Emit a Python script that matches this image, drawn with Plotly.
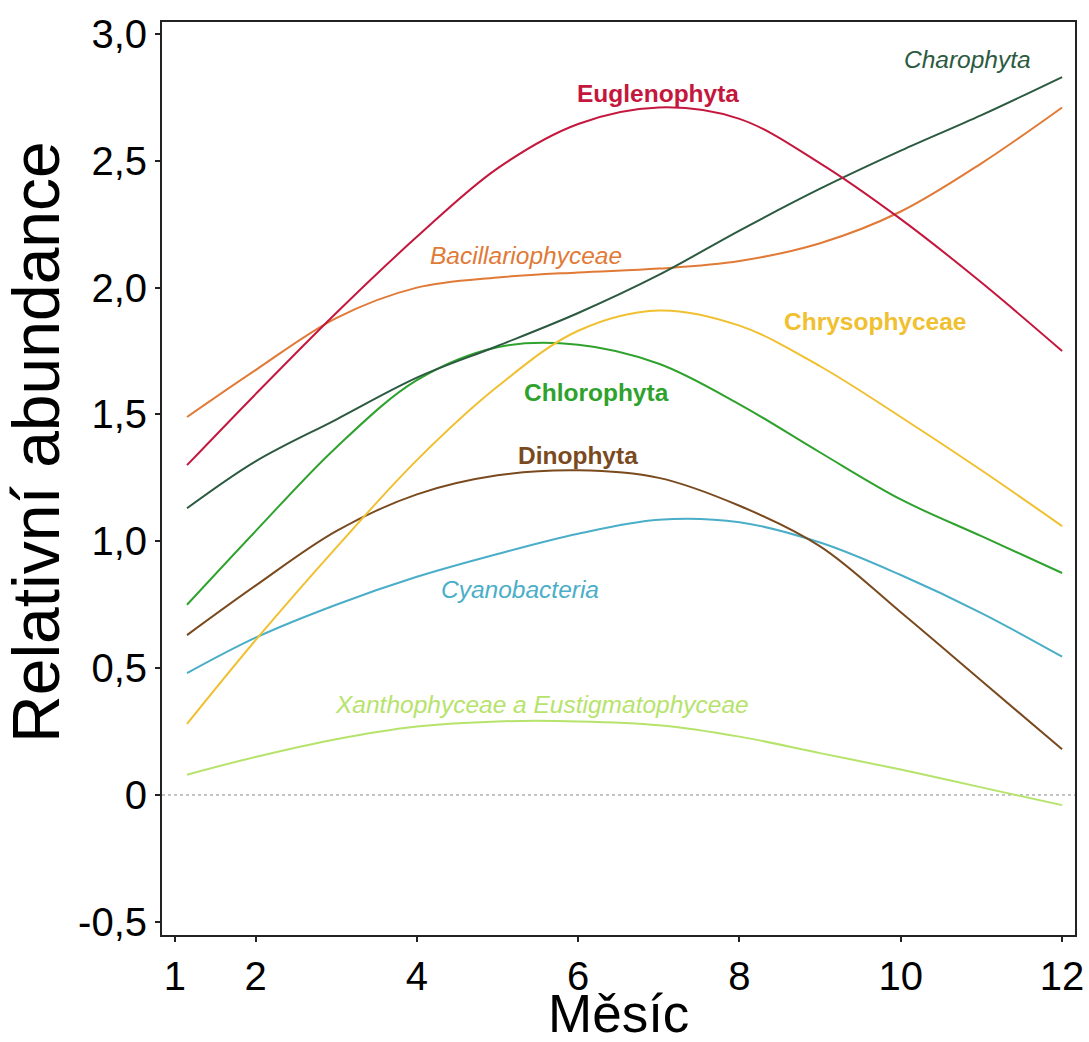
import plotly.graph_objects as go

# ---- data ----
months = [1.15, 2, 3, 4, 5, 6, 7, 8, 9, 10, 11, 12]

euglenophyta = [1.30, 1.58, 1.90, 2.20, 2.47, 2.645, 2.71, 2.665, 2.49, 2.27, 2.02, 1.75]
charophyta = [1.13, 1.315, 1.48, 1.645, 1.77, 1.90, 2.05, 2.225, 2.39, 2.54, 2.68, 2.83]
bacillariophyceae = [1.49, 1.675, 1.88, 2.00, 2.04, 2.06, 2.075, 2.105, 2.175, 2.30, 2.49, 2.71]
chrysophyceae = [0.28, 0.61, 0.975, 1.32, 1.61, 1.83, 1.91, 1.85, 1.69, 1.49, 1.28, 1.06]
chlorophyta = [0.75, 1.04, 1.37, 1.635, 1.765, 1.775, 1.70, 1.54, 1.35, 1.165, 1.02, 0.875]
dinophyta = [0.63, 0.825, 1.04, 1.185, 1.26, 1.28, 1.25, 1.14, 0.98, 0.72, 0.45, 0.18]
cyanobacteria = [0.48, 0.62, 0.75, 0.86, 0.95, 1.03, 1.085, 1.075, 0.995, 0.867, 0.717, 0.545]
xantho = [0.08, 0.15, 0.22, 0.27, 0.29, 0.29, 0.275, 0.23, 0.165, 0.10, 0.03, -0.04]

x_ticks = [1, 2, 4, 6, 8, 10, 12]
y_ticks = [-0.5, 0, 0.5, 1.0, 1.5, 2.0, 2.5, 3.0]
y_tick_labels = ["-0,5", "0", "0,5", "1,0", "1,5", "2,0", "2,5", "3,0"]

x_title = "Měsíc"
y_title = "Relativní abundance"

# ---- styles ----
FONT = "Arial, Liberation Sans, sans-serif"
LABEL_SIZE = 24.5
series = [
    ("Xanthophyceae a Eustigmatophyceae", xantho, "#b6e36b", dict(x=5.55, y=0.355, bold=False, italic=True)),
    ("Cyanobacteria", cyanobacteria, "#4aaec8", dict(x=5.28, y=0.81, bold=False, italic=True)),
    ("Dinophyta", dinophyta, "#7a4a1f", dict(x=6.0, y=1.34, bold=True, italic=False)),
    ("Chlorophyta", chlorophyta, "#2fa22e", dict(x=6.23, y=1.585, bold=True, italic=False)),
    ("Chrysophyceae", chrysophyceae, "#f0c030", dict(x=9.68, y=1.865, bold=True, italic=False)),
    ("Bacillariophyceae", bacillariophyceae, "#e07a36", dict(x=5.35, y=2.125, bold=False, italic=True)),
    ("Charophyta", charophyta, "#2b5a40", dict(x=10.83, y=2.90, bold=False, italic=True)),
    ("Euglenophyta", euglenophyta, "#c4173d", dict(x=6.99, y=2.765, bold=True, italic=False)),
]

fig = go.Figure()
annotations = []
for name, vals, color, lab in series:
    fig.add_trace(go.Scatter(
        x=months, y=vals, mode="lines", name=name,
        line=dict(color=color, width=2, shape="spline", smoothing=1.0),
        showlegend=False, hoverinfo="skip",
    ))
    txt = name
    if lab["bold"]:
        txt = "<b>" + txt + "</b>"
    if lab["italic"]:
        txt = "<i>" + txt + "</i>"
    annotations.append(dict(
        x=lab["x"], y=lab["y"], xref="x", yref="y", text=txt, showarrow=False,
        font=dict(family=FONT, size=LABEL_SIZE, color=color), xanchor="center", yanchor="middle",
    ))

# axis titles as annotations for precise placement
annotations.append(dict(
    x=-0.138, y=0.540, xref="paper", yref="paper", text=y_title, showarrow=False,
    textangle=-90, font=dict(family=FONT, size=66, color="black"),
    xanchor="center", yanchor="middle",
))
annotations.append(dict(
    x=0.5005, y=-0.086, xref="paper", yref="paper", text=x_title, showarrow=False,
    font=dict(family=FONT, size=53, color="black"),
    xanchor="center", yanchor="middle",
))

fig.add_shape(type="line", xref="paper", yref="y", x0=0, x1=1, y0=0, y1=0,
              line=dict(color="#888888", width=1, dash="dot"), layer="below")

fig.update_layout(
    width=1089, height=1042,
    margin=dict(l=162, r=14, t=22, b=107, autoexpand=False),
    paper_bgcolor="white", plot_bgcolor="white",
    font=dict(family=FONT, color="black"),
    annotations=annotations,
)
fig.update_xaxes(
    range=[0.84, 12.16], tickvals=x_ticks, ticktext=[str(v) for v in x_ticks],
    showgrid=False, zeroline=False, showline=True, linecolor="#222222", linewidth=2,
    mirror=True, ticks="outside", ticklen=5, tickwidth=1.5, tickcolor="#222222",
    tickfont=dict(family=FONT, size=40, color="black"), automargin=False,
)
fig.update_yaxes(
    range=[-0.552, 3.047], tickvals=y_ticks, ticktext=y_tick_labels,
    showgrid=False, zeroline=False, showline=True, linecolor="#222222", linewidth=2,
    mirror=True, ticks="outside", ticklen=5, tickwidth=1.5, tickcolor="#222222",
    tickfont=dict(family=FONT, size=40, color="black"), automargin=False,
)

fig.write_html("out.html", config={"displayModeBar": False},
               post_script="document.body.style.margin='0px';")
